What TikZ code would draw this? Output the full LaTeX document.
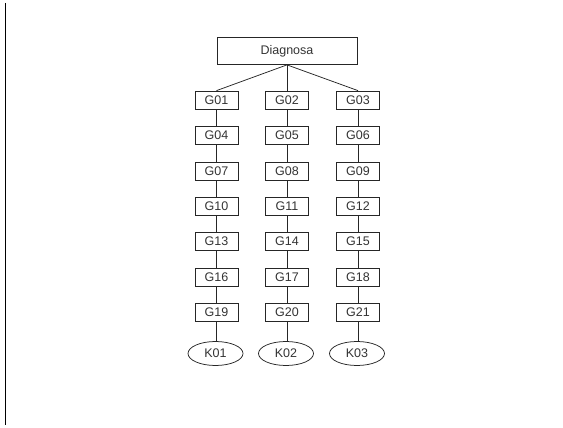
\documentclass[tikz,border=0pt]{standalone}
\usepackage{fontspec}
\setmainfont{Liberation Sans}
\usetikzlibrary{shapes.geometric}
\begin{document}
\begin{tikzpicture}[x=1pt,y=-1pt,
  box/.style={draw=black!85, line width=0.75pt, minimum width=43pt, minimum height=18pt, inner sep=0pt, font=\fontsize{12.5}{13}\selectfont, text=black!80},
  kell/.style={draw=black!85, line width=0.75pt, ellipse, minimum width=55pt, minimum height=24pt, inner sep=0pt, font=\fontsize{12.5}{13}\selectfont, text=black!80},
  conn/.style={draw=black!85, line width=0.75pt}]
\useasboundingbox (0,0) rectangle (563,428);
\draw[line width=1pt] (5.5,3) -- (5.5,425);
\node[box, minimum width=140pt, minimum height=27pt] (diag) at (287,51) {Diagnosa};
\foreach \n/\x/\y in {01/216.5/100,02/287/100,03/358/100,
  04/216.5/135,05/287/135,06/358/135,
  07/216.5/171,08/287/171,09/358/171,
  10/216.5/206,11/287/206,12/358/206,
  13/216.5/241,14/287/241,15/358/241,
  16/216.5/277,17/287/277,18/358/277,
  19/216.5/312,20/287/312,21/358/312}
  \node[box] (G\n) at (\x,\y) {G\n};
\node[kell] (K01) at (215.5,353.5) {K01};
\node[kell] (K02) at (286,353.5) {K02};
\node[kell] (K03) at (357,353.5) {K03};
\draw[conn] (diag.south) -- (G01.north);
\draw[conn] (diag.south) -- (G02.north);
\draw[conn] (diag.south) -- (G03.north);
\foreach \a/\b in {01/04,04/07,07/10,10/13,13/16,16/19,
  02/05,05/08,08/11,11/14,14/17,17/20,
  03/06,06/09,09/12,12/15,15/18,18/21}
  \draw[conn] (G\a) -- (G\b);
\draw[conn] (G19) -- (G19 |- K01.north);
\draw[conn] (G20) -- (G20 |- K02.north);
\draw[conn] (G21) -- (G21 |- K03.north);
\end{tikzpicture}
\end{document}
